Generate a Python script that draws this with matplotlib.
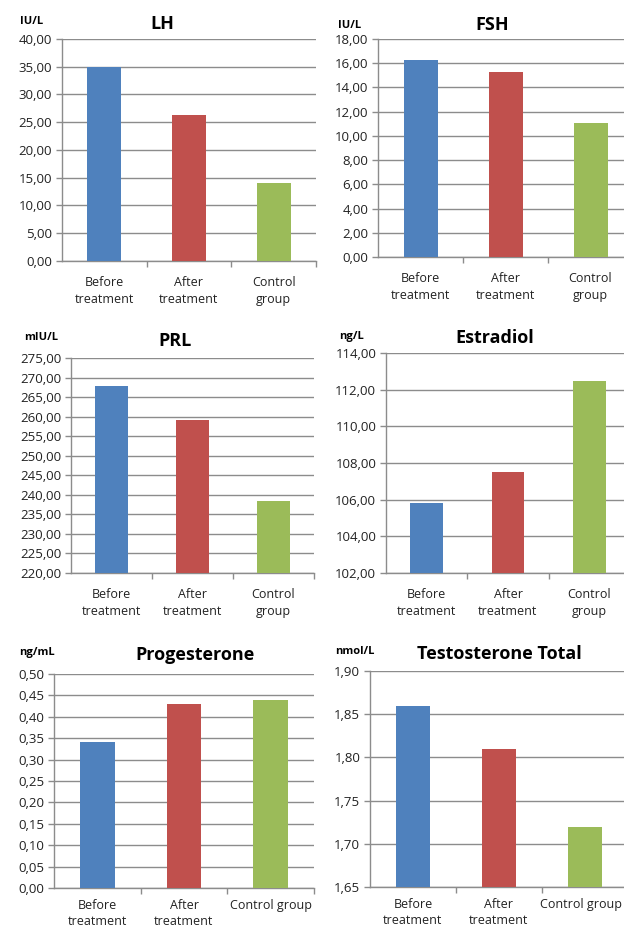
import numpy as np
import matplotlib.pyplot as plt
import matplotlib.transforms as mtransforms
from matplotlib.ticker import FuncFormatter, FixedLocator

W, H = 624, 931

categories = ['Before\ntreatment', 'After\ntreatment', 'Control\ngroup']
categories_one_line = ['Before\ntreatment', 'After\ntreatment', 'Control group']

lh = [35.0, 26.35, 14.05]
fsh = [16.25, 15.3, 11.1]
prl = [267.9, 259.2, 238.5]
estradiol = [105.8, 107.5, 112.47]
progesterone = [0.34, 0.43, 0.44]
testosterone = [1.86, 1.81, 1.72]

colors = ['#4F81BD', '#C0504D', '#9BBB59']
grid_col = '#8C8C8C'
plt.rcParams['font.family'] = ['Open Sans', 'DejaVu Sans']

fig = plt.figure(figsize=(W / 100, H / 100), dpi=100)

# title, unit, values, ymin, ymax, step, labels, box (left, top, right, bottom) px, title xy, unit xy, label pad, line spacing
panels = [
    ('LH', 'IU/L', lh, 0, 40, 5, categories, (62, 39, 316, 261), (162, 24), (32, 22), 11, 1.4),
    ('FSH', 'IU/L', fsh, 0, 18, 2, categories, (378, 39, 633, 257), (492, 25), (350, 25), 11, 1.4),
    ('PRL', 'mIU/L', prl, 220, 275, 5, categories, (71, 358, 314, 573), (175, 341), (41, 337), 11, 1.4),
    ('Estradiol', 'ng/L', estradiol, 102, 114, 2, categories, (386, 353, 630, 573), (495, 338), (352, 336), 11, 1.4),
    ('Progesterone', 'ng/mL', progesterone, 0, 0.5, 0.05, categories_one_line, (54, 674, 314, 888), (195, 655), (37, 652), 8, 1.25),
    ('Testosterone Total', 'nmol/L', testosterone, 1.65, 1.90, 0.05, categories_one_line, (370, 671, 628, 887), (499, 654), (355, 652), 8, 1.25),
]

for title, unit, vals, ymin, ymax, step, labels, box, txy, uxy, lpad, lsp in panels:
    l, t, r, b = box
    ax = fig.add_axes([l / W, 1 - b / H, (r - l) / W, (b - t) / H])
    x = np.arange(len(vals))
    ax.bar(x, vals, width=0.4, color=colors, zorder=3)
    ax.set_xlim(-0.5, 2.5)
    ax.set_ylim(ymin, ymax)
    yt = np.arange(ymin, ymax + step / 2, step)
    ax.yaxis.set_major_locator(FixedLocator(yt))
    ax.yaxis.set_major_formatter(FuncFormatter(lambda v, p: f'{v:.2f}'.replace('.', ',')))
    ax.grid(axis='y', color=grid_col, linewidth=1, zorder=0)
    ax.set_xticks(x)
    ax.set_xticklabels(labels, fontsize=9, color='#222222', linespacing=lsp)
    ax.set_xticks([0.5, 1.5, 2.5], minor=True)
    ax.tick_params(axis='x', which='major', length=0, pad=lpad)
    ax.tick_params(axis='x', which='minor', length=4, color=grid_col, width=1)
    ax.tick_params(axis='y', length=4, color=grid_col, width=1, labelsize=9.5, pad=3, labelcolor='#222222')
    for s in ['top', 'right']:
        ax.spines[s].set_visible(False)
    for s in ['left', 'bottom']:
        ax.spines[s].set_color(grid_col)
        ax.spines[s].set_linewidth(1)
    ax.set_facecolor('white')
    if r > W and labels is categories_one_line:
        # keep the long last label inside the picture
        lab = ax.get_xticklabels()[-1]
        lab.set_transform(lab.get_transform() + mtransforms.ScaledTranslation(-4 / 100, 0, fig.dpi_scale_trans))
    fig.text(txy[0] / W, 1 - txy[1] / H, title, fontsize=13, fontweight='bold',
             ha='center', va='center', color='black')
    fig.text(uxy[0] / W, 1 - uxy[1] / H, unit, fontsize=8, fontweight='bold',
             ha='center', va='center', color='black')

fig.savefig('out.png', dpi=100)
